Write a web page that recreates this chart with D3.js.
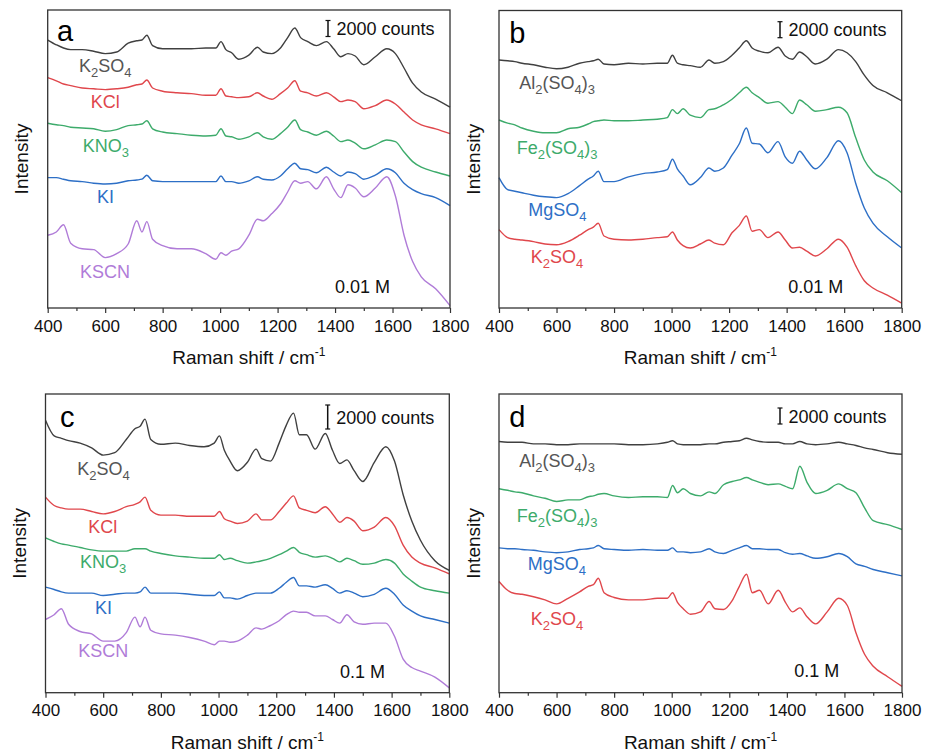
<!DOCTYPE html>
<html><head>
<meta charset="utf-8">
<title>Raman spectra - salts</title>
<script src="https://d3js.org/d3.v7.min.js"></script>
<style>
  body { margin: 0; background: #fff; }
  svg text { font-family: "Liberation Sans", Arial, Helvetica, sans-serif; }
</style>
</head>
<body>
<svg id="chart" width="925" height="753"></svg>

<script>
// x grid shared by every spectrum (Raman shift, cm-1)
const ramanShift = [400, 430, 455, 480, 520, 560, 600, 640, 680, 710, 728, 745, 765, 800, 850, 900, 950, 985, 1003, 1020,
  1040, 1065, 1100, 1130, 1150, 1180, 1210, 1235, 1260, 1280, 1305, 1335, 1370, 1395, 1420, 1445, 1470, 1500, 1540, 1580,
  1610, 1640, 1670, 1700, 1750, 1800];

// intensities in thousands of counts (offset stacked, as plotted)
// panel a: 0.01 M potassium salts
const aK2SO4 = [33.5, 32.9, 32.5, 32.3, 32.3, 32.1, 31.8, 32.0, 33.1, 33.4, 33.5, 34.1, 32.8, 32.4, 32.4, 32.4, 32.5, 32.5, 33.3, 32.3,
  31.9, 31.1, 31.6, 32.6, 32.0, 31.8, 32.5, 33.8, 35.0, 33.8, 33.3, 32.8, 33.3, 32.4, 31.4, 31.8, 31.5, 30.4, 31.4, 32.4,
  31.8, 30.0, 28.1, 27.0, 26.1, 25.1];
const aKCl = [28.8, 28.4, 28.0, 27.8, 27.5, 27.4, 27.3, 27.4, 27.6, 27.9, 28.0, 28.5, 27.5, 27.1, 26.9, 26.8, 26.6, 26.6, 27.4, 26.5,
  26.4, 26.3, 26.4, 26.9, 26.5, 26.1, 26.8, 27.5, 28.4, 27.1, 26.9, 26.5, 26.9, 26.4, 25.8, 26.0, 25.8, 24.9, 25.3, 26.0,
  25.5, 24.5, 23.5, 22.9, 22.4, 21.8];
const aKNO3 = [23.1, 22.9, 22.8, 22.6, 22.5, 22.4, 22.1, 22.3, 22.8, 22.9, 23.0, 23.4, 22.4, 22.0, 21.8, 21.6, 21.5, 21.6, 22.4, 21.5,
  21.4, 21.1, 21.4, 21.9, 21.4, 21.1, 21.8, 22.6, 23.5, 22.3, 22.0, 21.6, 22.1, 21.5, 20.8, 21.0, 20.6, 19.9, 20.4, 21.0,
  20.8, 19.5, 18.3, 17.6, 17.0, 16.5];
const aKI = [16.3, 16.3, 16.1, 15.9, 15.8, 15.6, 15.5, 15.6, 15.9, 16.0, 16.1, 16.6, 15.9, 15.8, 15.8, 15.8, 15.8, 15.8, 16.5, 15.8,
  15.8, 15.6, 15.9, 16.4, 16.1, 16.0, 16.5, 17.4, 18.1, 17.4, 17.3, 16.9, 17.6, 17.0, 16.5, 17.0, 16.8, 16.1, 16.6, 17.4,
  16.9, 15.6, 14.8, 14.3, 13.8, 12.8];
const aKSCN = [9.1, 9.5, 10.4, 8.1, 7.4, 7.3, 6.3, 6.8, 8.0, 10.9, 9.5, 10.8, 8.6, 7.8, 7.4, 7.4, 6.8, 6.1, 6.9, 6.6,
  7.1, 7.4, 9.1, 11.1, 10.9, 11.8, 13.0, 14.5, 15.9, 15.6, 15.8, 14.9, 16.4, 14.9, 13.8, 15.4, 15.0, 13.9, 15.0, 16.4,
  14.0, 9.1, 5.8, 3.9, 2.4, 0.3];

// panel b: 0.01 M sulfates
const bAl2SO43 = [31.0, 30.9, 30.8, 30.6, 30.4, 30.1, 29.9, 30.1, 30.6, 30.8, 30.9, 31.1, 30.5, 30.4, 30.6, 30.5, 30.6, 30.6, 31.6, 30.6,
  30.4, 30.3, 30.1, 31.0, 30.6, 30.8, 31.6, 32.5, 33.4, 32.5, 32.1, 31.9, 32.6, 31.5, 31.1, 32.0, 31.4, 30.5, 31.1, 32.3,
  31.9, 30.8, 29.1, 27.8, 26.9, 25.9];
const bFe2SO43 = [23.5, 23.1, 22.9, 22.5, 22.1, 21.9, 21.9, 22.4, 22.6, 23.0, 23.3, 23.4, 23.5, 23.4, 23.4, 23.5, 23.6, 23.8, 24.8, 24.3,
  24.9, 24.1, 23.8, 24.8, 24.9, 25.4, 26.1, 26.9, 27.6, 26.9, 26.3, 25.6, 25.8, 25.1, 24.3, 26.0, 25.4, 24.6, 24.8, 25.1,
  24.4, 21.3, 18.5, 17.0, 15.9, 14.4];
const bMgSO4 = [16.3, 14.8, 14.6, 14.4, 14.1, 13.9, 13.8, 14.3, 15.3, 16.1, 16.5, 17.1, 15.8, 15.8, 16.4, 16.8, 17.0, 17.3, 18.6, 17.4,
  16.5, 15.4, 16.3, 17.5, 17.1, 17.5, 19.1, 20.5, 22.5, 20.6, 20.5, 19.4, 20.8, 18.9, 18.1, 19.6, 18.5, 17.4, 18.8, 20.9,
  19.4, 15.6, 12.5, 10.6, 8.9, 7.5];
const bK2SO4 = [9.8, 8.8, 8.6, 8.5, 8.3, 8.0, 7.9, 8.3, 9.1, 9.8, 10.1, 10.6, 9.0, 8.6, 8.5, 8.6, 8.8, 8.9, 9.5, 8.5,
  7.8, 7.5, 8.0, 8.5, 8.1, 7.9, 9.4, 10.3, 11.5, 9.6, 9.8, 8.8, 9.5, 8.5, 7.5, 7.6, 7.1, 6.5, 7.4, 8.6,
  7.6, 5.3, 3.4, 2.5, 1.6, 0.6];

// panel c: 0.1 M potassium salts
const cK2SO4 = [22.7, 21.4, 21.2, 21.0, 20.8, 20.4, 19.8, 20.0, 21.1, 22.0, 22.2, 22.8, 21.1, 20.7, 20.8, 20.6, 20.5, 20.8, 21.4, 20.2,
  19.3, 18.5, 19.2, 20.3, 19.5, 19.3, 20.8, 22.3, 23.3, 21.5, 21.5, 20.3, 21.6, 20.2, 19.1, 19.4, 18.5, 17.6, 19.2, 20.5,
  19.3, 16.5, 14.3, 12.7, 11.0, 10.2];
const cKCl = [16.3, 15.6, 15.4, 15.3, 15.3, 15.1, 14.9, 15.1, 15.5, 15.7, 15.9, 16.3, 15.2, 14.8, 14.8, 14.7, 14.7, 14.7, 15.1, 14.5,
  14.3, 14.1, 14.3, 14.9, 14.4, 14.4, 15.1, 15.8, 16.4, 15.4, 15.2, 15.0, 15.5, 14.9, 14.2, 14.6, 14.3, 13.5, 13.8, 14.6,
  13.9, 12.3, 11.3, 10.8, 10.4, 9.9];
const cKNO3 = [12.9, 12.6, 12.4, 12.3, 12.1, 11.9, 11.8, 11.8, 11.8, 12.0, 12.0, 12.0, 11.8, 11.6, 11.4, 11.3, 11.2, 11.2, 11.5, 11.1,
  11.2, 11.0, 10.8, 10.9, 11.0, 11.2, 11.5, 11.8, 12.1, 11.7, 11.5, 11.3, 11.4, 11.2, 10.9, 11.2, 11.0, 10.7, 10.8, 11.1,
  10.8, 9.9, 9.3, 8.8, 8.5, 8.3];
const cKI = [8.8, 8.6, 8.4, 8.3, 8.3, 8.3, 8.1, 8.2, 8.3, 8.3, 8.4, 8.8, 8.3, 8.3, 8.3, 8.2, 8.1, 8.1, 8.4, 7.9,
  7.9, 7.8, 8.1, 8.3, 8.3, 8.3, 8.7, 9.2, 9.6, 8.9, 8.9, 8.8, 9.0, 8.7, 8.3, 8.5, 8.3, 8.0, 8.2, 8.7,
  8.2, 7.3, 6.8, 6.4, 6.1, 5.8];
const cKSCN = [6.1, 6.5, 7.0, 5.7, 5.1, 4.9, 4.3, 4.3, 5.0, 6.3, 5.5, 6.3, 5.2, 4.9, 4.8, 4.6, 4.3, 4.0, 4.3, 4.3,
  4.2, 4.3, 4.8, 5.4, 5.3, 5.6, 6.0, 6.5, 6.8, 6.7, 6.7, 6.4, 6.4, 6.1, 5.8, 6.5, 5.9, 5.7, 5.8, 5.8,
  4.7, 2.8, 2.1, 1.8, 1.3, 0.4];

// panel d: 0.1 M sulfates
const dAl2SO43 = [31.4, 31.3, 31.3, 31.3, 31.1, 31.1, 31.0, 31.0, 31.1, 31.1, 31.1, 31.1, 31.1, 31.1, 31.0, 31.0, 31.1, 31.3, 31.5, 31.1,
  31.0, 31.0, 31.0, 31.1, 31.1, 31.3, 31.4, 31.5, 31.8, 31.6, 31.4, 31.3, 31.3, 31.1, 31.1, 31.4, 31.1, 31.0, 31.1, 31.3,
  31.1, 30.9, 30.6, 30.4, 30.0, 29.8];
const dFe2SO43 = [25.5, 25.3, 25.1, 25.0, 24.6, 24.3, 23.9, 24.1, 24.1, 24.5, 24.6, 24.8, 24.9, 24.6, 24.4, 24.5, 24.5, 24.4, 25.9, 25.0,
  25.5, 24.9, 24.6, 25.1, 24.9, 26.0, 26.4, 26.6, 26.9, 26.6, 26.3, 26.0, 26.1, 25.8, 25.5, 28.3, 26.3, 24.9, 25.3, 26.1,
  25.5, 25.0, 23.1, 21.5, 21.0, 20.4];
const dMgSO4 = [18.1, 18.0, 18.0, 17.9, 17.8, 17.6, 17.5, 17.6, 17.9, 18.0, 18.1, 18.4, 18.0, 17.9, 17.8, 17.9, 17.8, 17.8, 18.1, 17.6,
  17.6, 17.5, 17.6, 18.0, 17.6, 17.4, 17.8, 18.1, 18.4, 18.0, 18.0, 17.9, 17.9, 17.5, 17.3, 17.4, 17.1, 16.8, 17.0, 17.4,
  17.0, 16.1, 15.8, 15.4, 15.0, 14.6];
const dK2SO4 = [13.9, 12.8, 12.4, 12.3, 12.0, 11.6, 11.1, 11.8, 12.6, 13.3, 13.5, 14.3, 12.5, 11.9, 11.6, 11.6, 11.8, 11.8, 12.5, 11.3,
  10.5, 9.8, 10.1, 11.4, 10.5, 10.4, 11.5, 13.3, 14.8, 12.5, 12.8, 11.1, 12.8, 11.3, 10.1, 10.6, 9.5, 8.6, 10.1, 11.8,
  10.9, 7.5, 4.8, 3.3, 2.0, 0.8];

const majorTicks = [400, 600, 800, 1000, 1200, 1400, 1600, 1800];
const minorTicks = [500, 700, 900, 1100, 1300, 1500, 1700];

const col = {
  black: "#404040", red: "#e0474c", green: "#3dab6b", blue: "#2d6fc6", purple: "#b07cd8"
};

// layout of the four panels; px2k = pixel length of the 2000 counts bar
const panels = [
  { letter: "a", left: 47.7, top: 10, right: 450, bottom: 308, px2k: 16, conc: "0.01 M",
    letterPos: [57, 41], barPos: [328, 20.5], concPos: [335, 293.3],
    series: [
      { name: "K_2SO_4", v: aK2SO4, c: col.black, lc: "#555", at: [79, 72.3] },
      { name: "KCl", v: aKCl, c: col.red, at: [90.7, 108.3] },
      { name: "KNO_3", v: aKNO3, c: col.green, at: [82.7, 151.7] },
      { name: "KI", v: aKI, c: col.blue, at: [97, 203.3] },
      { name: "KSCN", v: aKSCN, c: col.purple, at: [80, 278.3] }
    ] },
  { letter: "b", left: 499, top: 10.5, right: 901.7, bottom: 308, px2k: 16, conc: "0.01 M",
    letterPos: [509.3, 42.7], barPos: [780, 21.7], concPos: [788.3, 293.3],
    series: [
      { name: "Al_2(SO_4)_3", v: bAl2SO43, c: col.black, lc: "#555", at: [519.3, 89.3] },
      { name: "Fe_2(SO_4)_3", v: bFe2SO43, c: col.green, at: [516.7, 154] },
      { name: "MgSO_4", v: bMgSO4, c: col.blue, at: [528.3, 216] },
      { name: "K_2SO_4", v: bK2SO4, c: col.red, at: [530.7, 262.7] }
    ] },
  { letter: "c", left: 45.5, top: 394, right: 449.3, bottom: 692.7, px2k: 24, conc: "0.1 M",
    letterPos: [60, 426.7], barPos: [327.7, 405], concPos: [340, 678.3],
    series: [
      { name: "K_2SO_4", v: cK2SO4, c: col.black, lc: "#555", at: [77.3, 475] },
      { name: "KCl", v: cKCl, c: col.red, at: [88.3, 532.7] },
      { name: "KNO_3", v: cKNO3, c: col.green, at: [80, 568.3] },
      { name: "KI", v: cKI, c: col.blue, at: [95, 614.3] },
      { name: "KSCN", v: cKSCN, c: col.purple, at: [78.3, 656.7] }
    ] },
  { letter: "d", left: 499, top: 394, right: 902, bottom: 692.7, px2k: 16, conc: "0.1 M",
    letterPos: [509.3, 426.7], barPos: [780, 408], concPos: [794.3, 676.7],
    series: [
      { name: "Al_2(SO_4)_3", v: dAl2SO43, c: col.black, lc: "#555", at: [519.3, 467.3] },
      { name: "Fe_2(SO_4)_3", v: dFe2SO43, c: col.green, at: [516.7, 521.7] },
      { name: "MgSO_4", v: dMgSO4, c: col.blue, at: [527.7, 570] },
      { name: "K_2SO_4", v: dK2SO4, c: col.red, at: [530.7, 625] }
    ] }
];

const svg = d3.select("#chart");

// write "K_2SO_4" style names with real subscripts
function chemText(sel, str) {
  const parts = str.split(/(_\d)/).filter(s => s.length);
  let lastSub = false;
  parts.forEach(p => {
    if (p[0] === "_") {
      sel.append("tspan").attr("dy", 5).attr("font-size", 13).text(p.slice(1));
      lastSub = true;
    } else {
      const t = sel.append("tspan").text(p);
      if (lastSub) t.attr("dy", -5);
      lastSub = false;
    }
  });
}

panels.forEach(p => {
  const h = p.bottom - p.top;
  const x = d3.scaleLinear().domain([400, 1800]).range([p.left, p.right]);
  const y = d3.scaleLinear().domain([0, h / p.px2k * 2]).range([p.bottom, p.top]);
  const g = svg.append("g");

  // spectra
  const line = d3.line()
    .x((d, i) => x(ramanShift[i]))
    .y(d => y(d))
    .curve(d3.curveMonotoneX);
  p.series.forEach(s => {
    g.append("path")
      .attr("d", line(s.v))
      .attr("fill", "none")
      .attr("stroke", s.c)
      .attr("stroke-width", 1.4)
      .attr("stroke-linejoin", "round");
    const t = g.append("text")
      .attr("x", s.at[0]).attr("y", s.at[1])
      .attr("font-size", 18)
      .attr("fill", s.lc || s.c);
    chemText(t, s.name);
  });

  // x axis, major + minor ticks outside
  const ax = g.append("g").attr("transform", `translate(0,${p.bottom})`)
    .call(d3.axisBottom(x).tickValues(majorTicks).tickSize(5).tickPadding(6.5).tickFormat(d3.format("d")));
  ax.select(".domain").remove();
  ax.selectAll("text").attr("font-size", 17).attr("fill", "#111").attr("font-family", null);
  ax.selectAll("line").attr("stroke", "#333").attr("stroke-width", 1.2);
  const mx = g.append("g").attr("transform", `translate(0,${p.bottom})`)
    .call(d3.axisBottom(x).tickValues(minorTicks).tickSize(3).tickFormat(""));
  mx.select(".domain").remove();
  mx.selectAll("line").attr("stroke", "#333").attr("stroke-width", 1.2);

  // frame
  g.append("rect")
    .attr("x", p.left).attr("y", p.top)
    .attr("width", p.right - p.left).attr("height", h)
    .attr("fill", "none").attr("stroke", "#333").attr("stroke-width", 1.3);

  // axis titles
  const xt = g.append("text")
    .attr("x", (p.left + p.right) / 2).attr("y", p.bottom + 56)
    .attr("text-anchor", "middle").attr("font-size", 19).attr("fill", "#111");
  xt.append("tspan").text("Raman shift / cm");
  xt.append("tspan").attr("dy", -8).attr("font-size", 12).text("-1");
  g.append("text")
    .attr("transform", `translate(${p.left - 19.5},${(p.top + p.bottom) / 2}) rotate(-90)`)
    .attr("text-anchor", "middle").attr("font-size", 19).attr("fill", "#111")
    .text("Intensity");

  // panel letter
  g.append("text").attr("x", p.letterPos[0]).attr("y", p.letterPos[1])
    .attr("font-size", 29).attr("fill", "#000").text(p.letter);

  // 2000 counts scale bar, length taken from the y scale
  const bx = p.barPos[0], by = p.barPos[1];
  const blen = y(0) - y(2);
  g.append("line").attr("x1", bx).attr("x2", bx).attr("y1", by).attr("y2", by + blen)
    .attr("stroke", "#111").attr("stroke-width", 1.5);
  [by, by + blen].forEach(yy => g.append("line")
    .attr("x1", bx - 2.5).attr("x2", bx + 2.5).attr("y1", yy).attr("y2", yy)
    .attr("stroke", "#111").attr("stroke-width", 1.2));
  g.append("text").attr("x", bx + 8.5).attr("y", by + blen / 2 + 6.5)
    .attr("font-size", 18).attr("fill", "#111").text("2000 counts");

  // concentration
  g.append("text").attr("x", p.concPos[0]).attr("y", p.concPos[1])
    .attr("font-size", 18).attr("fill", "#111").text(p.conc);
});
</script>
</body>
</html>
